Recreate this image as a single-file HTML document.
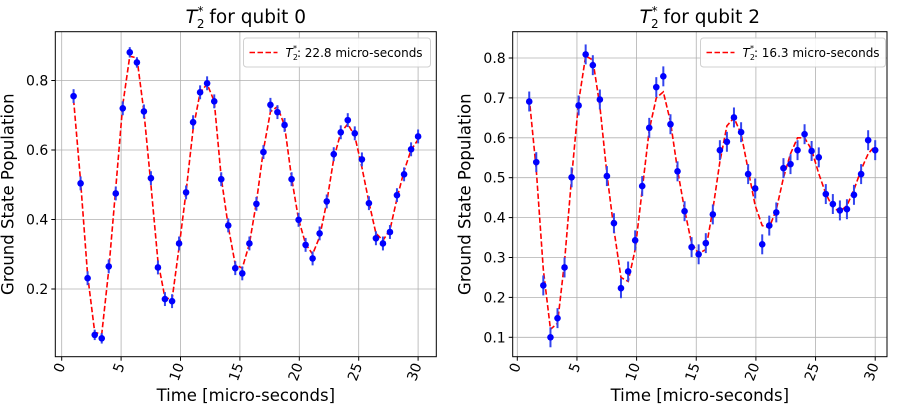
<!DOCTYPE html>
<html><head><meta charset="utf-8"><style>
body{margin:0;background:#fff;}
svg{display:block;font-family:"DejaVu Sans","Liberation Sans",sans-serif;}
</style></head><body>
<svg id="c" width="903" height="412" viewBox="0 0 903 412"></svg>
<script>
const times=[1,1.59,2.18,2.78,3.37,3.96,4.55,5.14,5.73,6.33,6.92,7.51,8.1,8.69,9.29,9.88,10.47,11.06,11.65,12.24,12.84,13.43,14.02,14.61,15.2,15.8,16.39,16.98,17.57,18.16,18.76,19.35,19.94,20.53,21.12,21.71,22.31,22.9,23.49,24.08,24.67,25.27,25.86,26.45,27.04,27.63,28.22,28.82,29.41,30];
const q0Values=[0.755,0.504,0.231,0.068,0.058,0.265,0.475,0.72,0.881,0.852,0.711,0.519,0.262,0.171,0.165,0.331,0.478,0.68,0.766,0.792,0.74,0.516,0.383,0.26,0.245,0.331,0.445,0.594,0.73,0.709,0.672,0.516,0.399,0.327,0.288,0.36,0.452,0.588,0.651,0.686,0.648,0.573,0.447,0.346,0.331,0.364,0.47,0.53,0.602,0.639];
const q0Fit=[0.745,0.51,0.24,0.075,0.07,0.255,0.49,0.73,0.87,0.865,0.71,0.5,0.28,0.175,0.17,0.32,0.48,0.66,0.765,0.79,0.74,0.52,0.38,0.27,0.26,0.33,0.45,0.6,0.71,0.725,0.67,0.52,0.4,0.33,0.3,0.35,0.45,0.575,0.65,0.675,0.64,0.55,0.45,0.36,0.34,0.37,0.46,0.54,0.6,0.63];
const q0Err=[0.02,0.02,0.02,0.015,0.015,0.02,0.02,0.02,0.015,0.015,0.02,0.02,0.02,0.02,0.02,0.02,0.02,0.02,0.02,0.02,0.02,0.02,0.02,0.02,0.02,0.02,0.02,0.02,0.02,0.02,0.02,0.02,0.02,0.02,0.02,0.02,0.02,0.02,0.02,0.02,0.02,0.02,0.02,0.02,0.02,0.02,0.02,0.02,0.02,0.02];
const q2Values=[0.691,0.539,0.23,0.1,0.148,0.275,0.501,0.681,0.809,0.782,0.696,0.504,0.386,0.223,0.265,0.343,0.479,0.625,0.727,0.754,0.634,0.516,0.416,0.326,0.308,0.336,0.408,0.569,0.59,0.651,0.614,0.509,0.473,0.333,0.38,0.413,0.524,0.534,0.569,0.609,0.567,0.551,0.459,0.434,0.418,0.421,0.457,0.509,0.594,0.569];
const q2Fit=[0.7,0.52,0.27,0.12,0.135,0.29,0.5,0.69,0.805,0.795,0.68,0.51,0.37,0.25,0.24,0.32,0.47,0.62,0.7,0.715,0.64,0.52,0.42,0.335,0.31,0.32,0.42,0.54,0.63,0.65,0.61,0.52,0.43,0.38,0.375,0.42,0.5,0.56,0.6,0.6,0.57,0.51,0.46,0.425,0.415,0.43,0.47,0.52,0.56,0.58];
const q2Err=times.map(()=>0.025);
const xTicks=[0,5,10,15,20,25,30];
const q0YTicks=[0.2,0.4,0.6,0.8];
const q2YTicks=[0.1,0.2,0.3,0.4,0.5,0.6,0.7,0.8];

const svg=document.getElementById('c');
const NS='http://www.w3.org/2000/svg';
function mk(tag,attrs,parent,name){const e=document.createElementNS(NS,tag);for(const k in attrs)e.setAttribute(k,attrs[k]);(parent||svg).appendChild(e);


return e;}

function panel(o){
  const g=mk('g',{},svg,o.id);
  const X=t=>o.x0+t*o.kx, Y=v=>o.yBase-(v-o.vBase)*o.ky;
  xTicks.forEach(t=>{mk('line',{x1:X(t),x2:X(t),y1:o.top,y2:o.bot,stroke:'#b0b0b0','stroke-width':0.8},g,'x-gridline');});
  o.yt.forEach(v=>{mk('line',{x1:o.left,x2:o.right,y1:Y(v),y2:Y(v),stroke:'#b0b0b0','stroke-width':0.8},g,'y-gridline');});
  mk('polyline',{points:times.map((t,i)=>X(t)+','+Y(o.fit[i])).join(' '),fill:'none',stroke:'#ff0000','stroke-width':1.6,'stroke-dasharray':'5.5,2.5'},g,'fit-line');
  times.forEach((t,i)=>{
    mk('line',{x1:X(t),x2:X(t),y1:Y(o.vals[i]-o.err[i]),y2:Y(o.vals[i]+o.err[i]),stroke:'#3344ee','stroke-width':2},g,'error-bar');
    mk('circle',{cx:X(t),cy:Y(o.vals[i]),r:3.3,fill:'#0000ff'},g,'data-point');
  });
  mk('rect',{x:o.left,y:o.top,width:o.right-o.left,height:o.bot-o.top,fill:'none',stroke:'#000','stroke-width':1},g,'axes-frame');
  xTicks.forEach(t=>{
    mk('line',{x1:X(t),x2:X(t),y1:o.bot,y2:o.bot+4,stroke:'#000'},g,'x-tick');
    const tx=mk('text',{x:0,y:0,'font-size':14,'text-anchor':'end','dominant-baseline':'central',transform:`translate(${X(t)},${o.bot+7}) rotate(-70)`},g,'x-tick-label');tx.textContent=String(t);
  });
  o.yt.forEach(v=>{
    mk('line',{x1:o.left-4,x2:o.left,y1:Y(v),y2:Y(v),stroke:'#000'},g,'y-tick');
    const ty=mk('text',{x:o.left-7,y:Y(v)+5,'font-size':14,'text-anchor':'end'},g,'y-tick-label');ty.textContent=v.toFixed(1);
  });
  const cx=(o.left+o.right)/2;
  const xl=mk('text',{x:cx,y:401,'font-size':16.5,'text-anchor':'middle'},g,'x-axis-title');xl.textContent='Time [micro-seconds]';
  const yl=mk('text',{x:0,y:0,'font-size':16.5,'text-anchor':'middle',transform:`translate(${o.left-42},${(o.top+o.bot)/2}) rotate(-90)`},g,'y-axis-title');yl.textContent='Ground State Population';
  const ti=mk('text',{x:cx,y:23,'font-size':18.5,'text-anchor':'middle'},g,'chart-title');
  ti.innerHTML='<tspan font-style="italic">T</tspan><tspan font-size="12" dy="5">2</tspan><tspan font-size="12" dx="-7" dy="-13">*</tspan><tspan dy="8"> for qubit '+o.q+'</tspan>';
  const lg=mk('g',{},g,'legend');
  mk('rect',{x:o.lx,y:38,width:o.lw,height:29,rx:3,fill:'#fff',stroke:'#cccccc','stroke-width':1,opacity:0.9},lg,'legend-box');
  mk('line',{x1:o.lx+6,x2:o.lx+34,y1:52.5,y2:52.5,stroke:'#ff0000','stroke-width':1.6,'stroke-dasharray':'5.5,2.5'},lg,'legend-swatch');
  const lt=mk('text',{x:o.lx+42,y:57,'font-size':12},lg,'legend-label');
  lt.innerHTML='<tspan font-style="italic">T</tspan><tspan font-size="8" dy="3">2</tspan><tspan font-size="8" dx="-5" dy="-9">*</tspan><tspan dy="6">: '+o.t2+' micro-seconds</tspan>';
}
panel({id:'qubit-0-chart',q:0,t2:'22.8',left:55.3,right:436.3,top:31.7,bot:356.7,x0:61.7,kx:11.88,yBase:289,vBase:0.2,ky:347.5,yt:q0YTicks,vals:q0Values,fit:q0Fit,err:q0Err,lx:243.5,lw:187});
panel({id:'qubit-2-chart',q:2,t2:'16.3',left:512.7,right:887,top:31.7,bot:356.7,x0:517.3,kx:11.93,yBase:337.3,vBase:0.1,ky:399,yt:q2YTicks,vals:q2Values,fit:q2Fit,err:q2Err,lx:700.5,lw:185});
</script>
</body></html>
